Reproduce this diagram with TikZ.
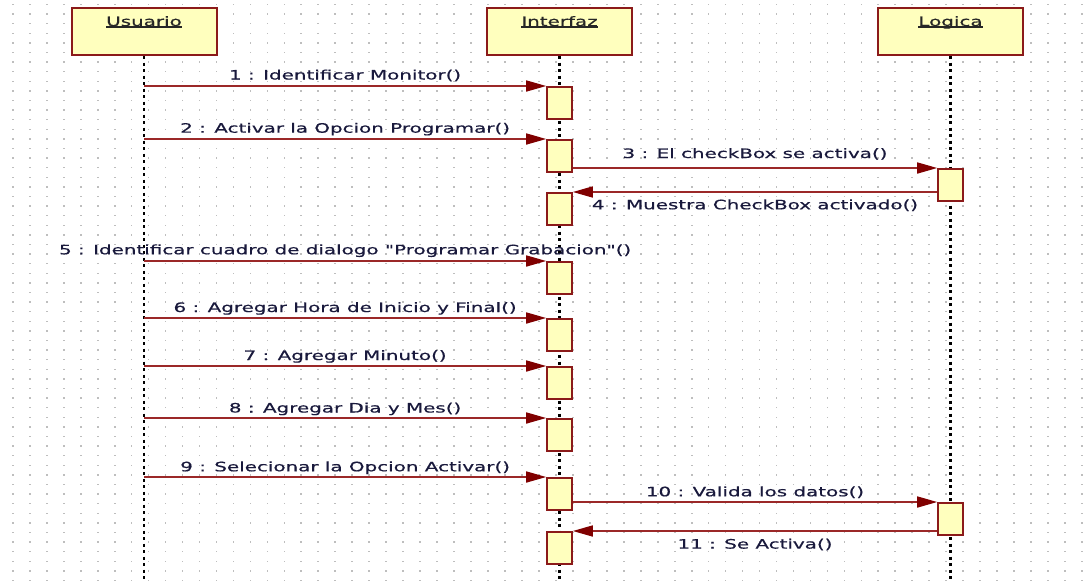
\documentclass[tikz,border=0pt]{standalone}
\usepackage{fontspec}
\newfontfamily\umlfont[FakeStretch=1.53,FakeBold=0.6]{DejaVu Sans}
\usetikzlibrary{arrows.meta}

\definecolor{boxred}{RGB}{139,26,26}
\definecolor{linered}{RGB}{155,40,40}
\definecolor{headred}{RGB}{128,0,0}
\definecolor{boxfill}{RGB}{255,255,190}
\definecolor{gridgray}{RGB}{190,190,190}
\definecolor{txtblue}{RGB}{25,25,60}

% underlined object name
\newcommand{\hdrul}[1]{\setbox0\hbox{#1}\rlap{\copy0}\rule[-1.6pt]{\wd0}{1.3pt}}

\tikzset{
  obj/.style={draw=boxred, line width=2pt, fill=boxfill, minimum width=145pt,
    inner ysep=0pt, text height=18pt, text depth=29pt,
    font=\umlfont\fontsize{13}{15}\selectfont, text=black!85},
  act/.style={draw=boxred, line width=1.6pt, fill=boxfill, minimum width=25pt,
    minimum height=32pt, inner sep=0pt, anchor=north},
  msg/.style={draw=linered, line width=1.6pt,
    -{Triangle[length=20pt,width=11pt,color=headred]}},
  msgtext/.style={font=\umlfont\fontsize{13}{15}\selectfont, text=txtblue,
    anchor=base, inner sep=0pt, midway},
  life/.style={black, line width=2.5pt, dash pattern=on 3pt off 3.5pt}
}

\begin{document}
\begin{tikzpicture}[x=1pt,y=-1pt]
  \useasboundingbox (0,0) rectangle (1086,581);
  % dotted grid
  \foreach \i in {0,...,63}
    \foreach \j in {0,...,60}
      \fill[gridgray] ({12+16.97*\i},{3.7+9.6*\j}) rectangle +(1.7,1.5);
  % objects
  \node[obj] (usuario) at (144,31.5) {\hdrul{Usuario}};
  \node[obj] (interfaz) at (559.5,31.5) {\hdrul{Interfaz}};
  \node[obj] (logica) at (950.5,31.5) {\hdrul{Logica}};
  % lifelines
  \foreach \o in {usuario,interfaz,logica}
    \draw[life] (\o.south) -- ++(0,526);
  % activations
  \foreach \y [count=\n] in {86,139,192,261,318,366,418,477,531}
    \node[act] (a\n) at (interfaz.south |- 0,\y) {};
  \node[act] (l1) at (logica.south |- 0,168) {};
  \node[act] (l2) at (logica.south |- 0,502) {};
  \foreach \n in {1,2,4,5,6,7,8}
    \coordinate (u\n) at (usuario.south |- a\n.north);
  % messages
  \draw[msg] (u1) -- (a1.north west) node[msgtext, yshift=6.5pt] {1 : Identificar Monitor()};
  \draw[msg] (u2) -- (a2.north west) node[msgtext, yshift=6.3pt] {2 : Activar la Opcion Programar()};
  \draw[msg] (a2.east |- l1.north) -- (l1.north west) node[msgtext, yshift=10pt] {3 : El checkBox se activa()};
  \draw[msg] (l1.west |- a3.north) -- (a3.north east) node[msgtext, yshift=-17.3pt] {4 : Muestra CheckBox activado()};
  \draw[msg] (u4) -- (a4.north west) node[msgtext, yshift=6.7pt] {5 : Identificar cuadro de dialogo "Programar Grabacion"()};
  \draw[msg] (u5) -- (a5.north west) node[msgtext, yshift=6pt] {6 : Agregar Hora de Inicio y Final()};
  \draw[msg] (u6) -- (a6.north west) node[msgtext, yshift=6pt] {7 : Agregar Minuto()};
  \draw[msg] (u7) -- (a7.north west) node[msgtext, yshift=5.5pt] {8 : Agregar Dia y Mes()};
  \draw[msg] (u8) -- (a8.north west) node[msgtext, yshift=5.7pt] {9 : Selecionar la Opcion Activar()};
  \draw[msg] (a8.east |- l2.north) -- (l2.north west) node[msgtext, yshift=5.7pt] {10 : Valida los datos()};
  \draw[msg] (l2.west |- a9.north) -- (a9.north east) node[msgtext, yshift=-17.6pt] {11 : Se Activa()};
\end{tikzpicture}
\end{document}
